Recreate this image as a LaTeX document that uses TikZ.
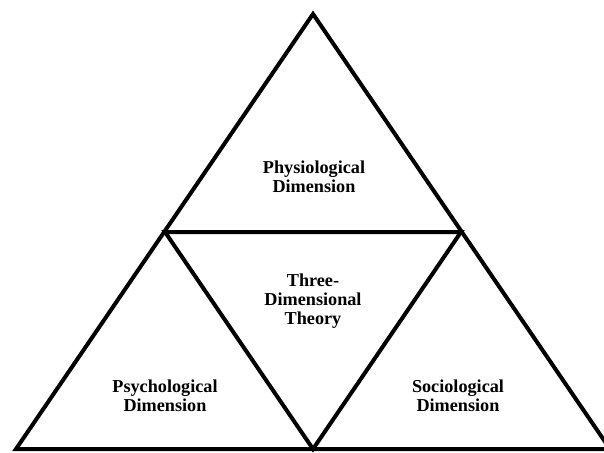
\documentclass[tikz,border=0pt]{standalone}
\usepackage{fontspec}
\setmainfont{Liberation Serif}
\begin{document}
\begin{tikzpicture}[x=1pt,y=-1pt,
  edge/.style={draw=black,line width=4pt,line join=miter},
  lbl/.style={align=center,font=\bfseries\fontsize{18.2}{18.7}\selectfont,inner sep=0pt}]
\useasboundingbox (0,0) rectangle (604,452);
\clip (0,0) rectangle (604,452);
\coordinate (top) at (313,14);
\coordinate (bl) at (16,449);
\coordinate (br) at (610,449);
\coordinate (ml) at (165,232);
\coordinate (mr) at (461,232);
\coordinate (bm) at (313,449);
\draw[edge] (top) -- (br) -- (bl) -- cycle;
\draw[edge] (ml) -- (mr) -- (bm) -- cycle;
\node[lbl] (phys) at (314,177) {Physiological\\Dimension};
\node[lbl] (three) at (313,301) {Three-\\Dimensional\\Theory};
\node[lbl] (psych) at (165,396) {Psychological\\Dimension};
\node[lbl] (soc) at (458,396) {Sociological\\Dimension};
\end{tikzpicture}
\end{document}
